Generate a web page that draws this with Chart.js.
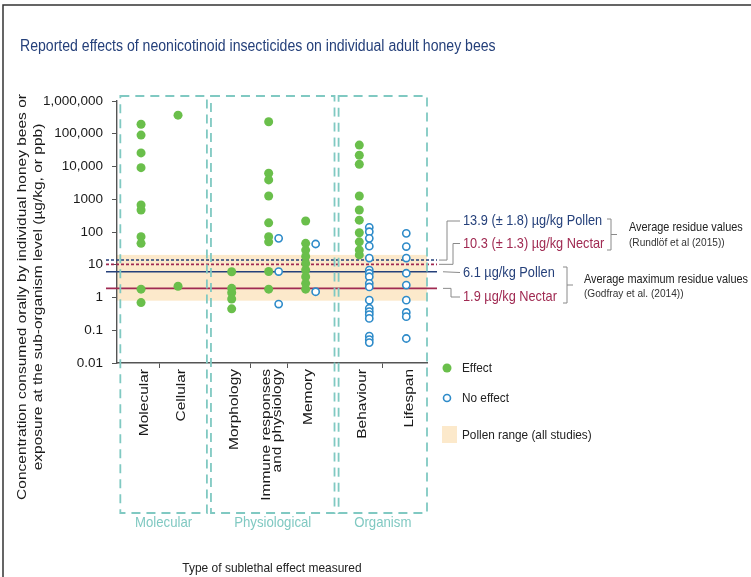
<!DOCTYPE html>
<html>
<head>
<meta charset="utf-8">
<script src="https://cdn.jsdelivr.net/npm/chart.js@4.4.1/dist/chart.umd.min.js"></script>
<style>
  html, body { margin: 0; padding: 0; background: #fff; }
  canvas { display: block; }
</style>
</head>
<body>
<canvas id="beeChart" width="751" height="577"></canvas>
<script>
// categories on the x axis, and which group box each belongs to
var categories = ['Molecular', 'Cellular', 'Morphology', ['Immune responses', 'and physiology'], 'Memory', 'Behaviour', 'Lifespan'];
var categoryGroup = [0, 0, 1, 1, 1, 2, 2];
var groupNames = ['Molecular', 'Physiological', 'Organism'];

// concentrations (µg/kg), one list per category
var effectValues = [
    [195000, 91000, 26000, 9200, 670, 470, 72, 45, 1.8, 0.7],
    [370000, 2.2],
    [6.1, 1.9, 1.4, 0.9, 0.45],
    [233000, 6200, 3900, 1260, 190, 72, 50, 6.2, 1.8],
    [217, 45, 28, 18, 11, 6.9, 4.3, 2.7, 1.8],
    [45000, 22000, 11700, 1260, 470, 230, 95, 50, 28, 20],
    []
];
var noEffectValues = [
    [],
    [],
    [],
    [64, 6.2, 0.63],
    [43, 1.5],
    [139, 102, 64, 37, 16, 6.9, 5.5, 4.3, 2.7, 2.1, 0.83, 0.47, 0.37, 0.30, 0.23, 0.066, 0.052, 0.042],
    [91, 36, 16, 5.5, 2.4, 0.83, 0.35, 0.26, 0.056]
];

var yTickValues = [1000000, 100000, 10000, 1000, 100, 10, 1, 0.1, 0.01];
var yTickLabels = ['1,000,000', '100,000', '10,000', '1000', '100', '10', '1', '0.1', '0.01'];

var pollenRange = [0.8, 20];
var residueValues = [13.9, 10.3, 6.1, 1.9];
var residueLabels = ['13.9 (± 1.8) µg/kg Pollen', '10.3 (± 1.3) µg/kg Nectar', '6.1 µg/kg Pollen', '1.9 µg/kg Nectar'];
var residueKind = ['Pollen', 'Nectar', 'Pollen', 'Nectar'];
var residueSources = [
    ['Average residue values', '(Rundlöf et al (2015))'],
    ['Average maximum residue values', '(Godfray et al. (2014))']
];

// colours
var GREEN = '#6abf4b';
var BLUE = '#2e8bc9';
var NAVY = '#25407a';
var CRIMSON = '#a02a52';
var PEACH = '#fce9cb';
var TEAL = '#80c9c2';
var FONT = '"Liberation Sans", Arial, sans-serif';
var SQ = 0.88; // the picture's text is a bit narrow

// x positions: 1 unit between categories, a wider step between groups
var inGroupStep = [1, 1, 1.27];
var groupStep = 1.45;
var catPos = [];
var p = 0;
categories.forEach(function (c, i) {
    if (i > 0) {
        p += categoryGroup[i] !== categoryGroup[i - 1] ? groupStep : inGroupStep[categoryGroup[i]];
    }
    catPos.push(p);
});

var effectPoints = [];
var noEffectPoints = [];
categories.forEach(function (c, i) {
    effectValues[i].forEach(function (v) { effectPoints.push({ x: catPos[i], y: v }); });
    var shift = effectValues[i].length ? 0.27 : 0; // circles sit beside the dots
    noEffectPoints.push.apply(noEffectPoints, noEffectValues[i].map(function (v) {
        return { x: catPos[i] + shift, y: v };
    }));
});

// small tick marks between neighbours of the same group
var betweenTicks = [];
for (var i = 1; i < categories.length; i++) {
    if (categoryGroup[i] === categoryGroup[i - 1]) betweenTicks.push((catPos[i] + catPos[i - 1]) / 2);
}

function text(ctx, str, x, y, o) {
    ctx.save();
    ctx.translate(x, y);
    ctx.scale(SQ, 1);
    if (o.rotate) ctx.rotate(-Math.PI / 2);
    ctx.font = (o.weight || 'normal') + ' ' + o.size + 'px ' + FONT;
    ctx.fillStyle = o.color || '#222';
    ctx.textAlign = o.align || 'left';
    ctx.textBaseline = 'middle';
    ctx.fillText(str, 0, 0);
    ctx.restore();
}

function path(ctx, pts) {
    ctx.beginPath();
    ctx.moveTo(pts[0][0], pts[0][1]);
    for (var k = 1; k < pts.length; k++) ctx.lineTo(pts[k][0], pts[k][1]);
    ctx.stroke();
}

var decor = {
    id: 'decor',
    beforeDraw: function (chart) {
        var ctx = chart.ctx, a = chart.chartArea, ys = chart.scales.y;
        var top = ys.getPixelForValue(pollenRange[1]);
        var bot = ys.getPixelForValue(pollenRange[0]);
        ctx.save();
        ctx.fillStyle = PEACH;
        ctx.fillRect(a.left, top, a.right - a.left, bot - top);
        ctx.restore();
    },
    beforeDatasetsDraw: function (chart) {
        var ctx = chart.ctx, a = chart.chartArea, xs = chart.scales.x, ys = chart.scales.y;
        ctx.save();
        // residue lines
        residueValues.forEach(function (v, i) {
            var y = ys.getPixelForValue(v);
            ctx.strokeStyle = residueKind[i] === 'Pollen' ? NAVY : CRIMSON;
            ctx.lineWidth = 1.6;
            ctx.setLineDash(i < 2 ? [3, 2] : []);
            path(ctx, [[a.left - 11, y], [a.right + 10, y]]);
        });
        // dashed group boxes
        ctx.strokeStyle = TEAL;
        ctx.lineWidth = 1.8;
        ctx.setLineDash([9, 6]);
        groupNames.forEach(function (g, gi) {
            var idx = [];
            categoryGroup.forEach(function (cg, i) { if (cg === gi) idx.push(i); });
            var left = catPos[idx[0]] - 0.56;
            var right;
            if (gi < groupNames.length - 1) {
                right = catPos[categoryGroup.indexOf(gi + 1)] - 0.67;
            } else {
                right = catPos[idx[idx.length - 1]] + 0.56;
            }
            var x0 = xs.getPixelForValue(left), x1 = xs.getPixelForValue(right);
            ctx.strokeRect(x0, a.top - 5, x1 - x0, 417);
            text(ctx, g, (x0 + x1) / 2, a.top + 422, { size: 15, color: TEAL, align: 'center' });
        });
        ctx.restore();
    },
    afterDraw: function (chart) {
        var ctx = chart.ctx, a = chart.chartArea, xs = chart.scales.x, ys = chart.scales.y;
        ctx.save();

        // frame
        ctx.strokeStyle = '#333';
        ctx.lineWidth = 1.5;
        path(ctx, [[3, 577], [3, 5], [751, 5]]);

        text(ctx, 'Reported effects of neonicotinoid insecticides on individual adult honey bees', 20, 47,
            { size: 16, color: NAVY });

        // axis titles
        text(ctx, 'Concentration consumed orally by individual honey bees or', 22, 297,
            { size: 15.5, color: '#1a1a1a', align: 'center', rotate: true });
        text(ctx, 'exposure at the sub-organism level (µg/kg, or ppb)', 38, 297,
            { size: 15.5, color: '#1a1a1a', align: 'center', rotate: true });
        text(ctx, 'Type of sublethal effect measured', 272, 568, { size: 13.6, align: 'center' });

        // category labels, written upwards
        categories.forEach(function (c, i) {
            var lines = Array.isArray(c) ? c : [c];
            var cx = xs.getPixelForValue(catPos[i]) + 3;
            lines.forEach(function (l, k) {
                var lx = cx + (k - (lines.length - 1) / 2) * 11;
                text(ctx, l, lx, a.bottom + 6, { size: 15.5, color: '#1a1a1a', align: 'right', rotate: true });
            });
        });

        // residue labels and connectors
        var textY = [221, 243.5, 272.5, 297];
        ctx.strokeStyle = '#8a8a8a';
        ctx.lineWidth = 1;
        residueValues.forEach(function (v, i) {
            var y = ys.getPixelForValue(v);
            var ty = textY[i];
            if (i === 0) path(ctx, [[a.right + 12, y], [447, y], [447, ty], [460, ty]]);
            if (i === 1) path(ctx, [[a.right + 12, y], [453, y], [453, ty], [460, ty]]);
            if (i === 2) path(ctx, [[a.right + 16, y], [460, ty]]);
            if (i === 3) path(ctx, [[a.right + 16, y], [451, y], [451, ty], [460, ty]]);
            text(ctx, residueLabels[i], 463, ty,
                { size: 14.5, color: residueKind[i] === 'Pollen' ? NAVY : CRIMSON });
        });

        // brackets and their sources
        path(ctx, [[607, 219], [611, 219], [611, 250], [607, 250]]);
        path(ctx, [[611, 234.5], [617, 234.5]]);
        text(ctx, residueSources[0][0], 629, 228, { size: 12.4, color: '#222' });
        text(ctx, residueSources[0][1], 629, 243, { size: 11.5, color: '#333' });
        path(ctx, [[563, 267], [567, 267], [567, 303], [563, 303]]);
        path(ctx, [[567, 285], [573, 285]]);
        text(ctx, residueSources[1][0], 584, 280, { size: 12.4, color: '#222' });
        text(ctx, residueSources[1][1], 584, 294, { size: 11.5, color: '#333' });

        // legend
        ctx.fillStyle = GREEN;
        ctx.beginPath();
        ctx.arc(447, 368, 4.5, 0, Math.PI * 2);
        ctx.fill();
        text(ctx, 'Effect', 462, 368, { size: 13.4 });
        ctx.strokeStyle = BLUE;
        ctx.lineWidth = 1.6;
        ctx.beginPath();
        ctx.arc(447, 398, 3.5, 0, Math.PI * 2);
        ctx.stroke();
        text(ctx, 'No effect', 462, 398, { size: 13.4 });
        ctx.fillStyle = PEACH;
        ctx.fillRect(442, 426, 15, 17);
        text(ctx, 'Pollen range (all studies)', 462, 435, { size: 13.4 });

        ctx.restore();
    }
};

var ctx = document.getElementById('beeChart').getContext('2d');
var beeChart = new Chart(ctx, {
    type: 'scatter',
    data: {
        datasets: [{
            label: 'Effect',
            data: effectPoints,
            pointStyle: 'circle',
            pointRadius: 4.5,
            backgroundColor: GREEN,
            borderWidth: 0
        }, {
            label: 'No effect',
            data: noEffectPoints,
            pointStyle: 'circle',
            pointRadius: 3.6,
            backgroundColor: '#ffffff',
            borderColor: BLUE,
            borderWidth: 1.6
        }]
    },
    options: {
        responsive: false,
        animation: false,
        devicePixelRatio: 1,
        clip: false,
        layout: { padding: { left: 20, top: 101, right: 324, bottom: 0 } },
        plugins: {
            legend: { display: false },
            title: { display: false },
            tooltip: { enabled: false }
        },
        scales: {
            x: {
                type: 'linear',
                min: -0.65,
                max: 7.73,
                afterBuildTicks: function (scale) {
                    scale.ticks = betweenTicks.map(function (v) { return { value: v }; });
                },
                afterFit: function (scale) { scale.height = 214; },
                ticks: { display: false },
                grid: { display: true, drawOnChartArea: false, drawTicks: true, tickLength: 5, color: '#555' },
                border: { color: '#555', width: 1.4 }
            },
            y: {
                type: 'logarithmic',
                min: 0.01,
                max: 1000000,
                afterBuildTicks: function (scale) {
                    scale.ticks = yTickValues.map(function (v) { return { value: v }; });
                },
                afterFit: function (scale) { scale.width = 97; },
                ticks: {
                    color: '#1a1a1a',
                    font: { family: FONT, size: 13.5 },
                    padding: 9,
                    callback: function (v) { return yTickLabels[yTickValues.indexOf(v)]; }
                },
                grid: { display: true, drawOnChartArea: false, drawTicks: true, tickLength: 5, color: '#555' },
                border: { color: '#555', width: 1.4 }
            }
        }
    },
    plugins: [decor]
});
</script>
</body>
</html>
